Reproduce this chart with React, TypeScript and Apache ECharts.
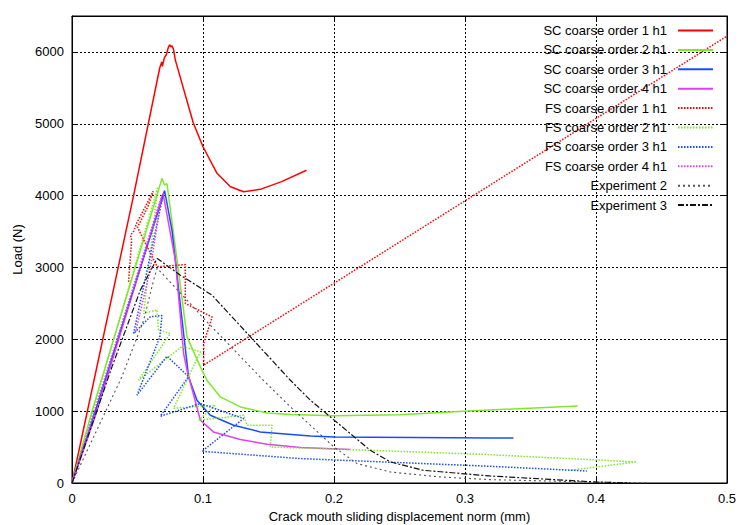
import React, { useEffect, useRef } from "react";
import * as echarts from "echarts";

const seriesNames = [
  "SC coarse order 1 h1",
  "SC coarse order 2 h1",
  "SC coarse order 3 h1",
  "SC coarse order 4 h1",
  "FS coarse order 1 h1",
  "FS coarse order 2 h1",
  "FS coarse order 3 h1",
  "FS coarse order 4 h1",
  "Experiment 2",
  "Experiment 3",
];

const xTicks = [0, 0.1, 0.2, 0.3, 0.4, 0.5];
const yTicks = [0, 1000, 2000, 3000, 4000, 5000, 6000];

const scOrder1 = [
  [0, 0], [0.047, 4000], [0.067, 5780], [0.0685, 5860], [0.069, 5800], [0.0705, 5920],
  [0.072, 5960], [0.0735, 6060], [0.0745, 6100], [0.0755, 6070], [0.0763, 6085],
  [0.0775, 6035], [0.0789, 5886], [0.0926, 5010], [0.1, 4680], [0.1107, 4310],
  [0.121, 4123], [0.131, 4054], [0.1437, 4087], [0.16, 4195], [0.179, 4353],
];
const scOrder2 = [
  [0, 0], [0.0153, 1000], [0.0687, 4240], [0.0705, 4150], [0.0725, 4165], [0.0802, 3100],
  [0.0878, 2034], [0.098, 1616], [0.103, 1430], [0.1132, 1198], [0.1285, 1059],
  [0.149, 975], [0.167, 953], [0.2, 935], [0.25, 950], [0.299, 999], [0.386, 1073],
];
const scOrder3 = [
  [0, 0], [0.0178, 1000], [0.0707, 4070], [0.0763, 3520], [0.0852, 2081], [0.089, 1477],
  [0.0954, 1152], [0.1056, 943], [0.1234, 804], [0.1437, 711], [0.182, 655],
  [0.2, 641], [0.319, 627], [0.337, 627],
];
const scOrder4 = [
  [0, 0], [0.019, 1000], [0.0695, 4030], [0.0789, 3102], [0.0852, 1802], [0.0878, 1570],
  [0.098, 873], [0.108, 711], [0.1285, 605], [0.149, 539], [0.1745, 493], [0.212, 465],
];
const fsOrder1 = [
  [0.0432, 2800], [0.0455, 3380], [0.0447, 3450], [0.047, 3500], [0.0495, 3620],
  [0.062, 4060], [0.058, 3850], [0.05, 3560], [0.065, 3010], [0.0865, 3040],
  [0.0865, 2500], [0.107, 2310], [0.1005, 1940], [0.1005, 1640], [0.5, 6220],
];
const fsOrder2 = [
  [0, 0], [0.0655, 4120], [0.0547, 2360], [0.0649, 2410], [0.066, 2130], [0.075, 2080],
  [0.0508, 1430], [0.084, 1900], [0.098, 1830], [0.0776, 1040], [0.1094, 1080],
  [0.0967, 873], [0.131, 943], [0.1336, 804], [0.1527, 804], [0.1514, 501],
  [0.2125, 465], [0.3116, 400], [0.431, 293], [0.38, 177],
];
const fsOrder3 = [
  [0, 0], [0.0695, 4000], [0.047, 2080], [0.0598, 2315], [0.0687, 2330], [0.067, 2030],
  [0.0496, 1222], [0.0725, 1765], [0.089, 1480], [0.0674, 929], [0.098, 1106],
  [0.131, 897], [0.0992, 441], [0.174, 340], [0.319, 233], [0.393, 167],
];
const fsOrder4 = [
  [0, 0], [0.0685, 4000], [0.0595, 2950], [0.0485, 2100],
];
const experiment2 = [
  [0, 0], [0.038, 1476], [0.0547, 2266], [0.0623, 2823], [0.065, 2990], [0.0878, 2545],
  [0.1018, 2267], [0.146, 1430], [0.1667, 1060], [0.2, 500], [0.2176, 270],
  [0.243, 153], [0.281, 84], [0.319, 47], [0.4, 12], [0.44, 0],
];
const experiment3 = [
  [0, 0], [0.0305, 1616], [0.0521, 2683], [0.065, 3126], [0.0827, 2893], [0.1069, 2614],
  [0.1667, 1430], [0.182, 1152], [0.2277, 455], [0.243, 293], [0.268, 177],
  [0.319, 98], [0.4, 14], [0.426, 0],
];

const seriesData = [
  scOrder1, scOrder2, scOrder3, scOrder4,
  fsOrder1, fsOrder2, fsOrder3, fsOrder4,
  experiment2, experiment3,
];

const colors = [
  "#ff0000", "#7ee82a", "#1a4cff", "#e040f0",
  "#ff0000", "#7ee82a", "#1a4cff", "#e040f0",
  "#555555", "#111111",
];
const lineTypes: any[] = [
  "solid", "solid", "solid", "solid",
  [1.5, 1.5], [1.5, 1.5], [1.5, 1.5], [1.5, 1.5],
  [2, 3], [6, 2, 2, 2],
];
const lineWidths = [1.5, 1.5, 1.5, 1.5, 1.5, 1.5, 1.5, 1.5, 1.1, 1.2];

const FONT = "'Liberation Sans', Arial, Helvetica, sans-serif";

export default function App() {
  const ref = useRef<HTMLDivElement>(null);
  useEffect(() => {
    document.body.style.margin = "0";
    if (!ref.current) return;
    const chart = echarts.init(ref.current, undefined, { renderer: "svg" });
    const xMin = xTicks[0];
    const xMax = xTicks[xTicks.length - 1];
    const yMin = yTicks[0];
    const commonTick = { show: true, inside: true, length: 5, lineStyle: { color: "#000", width: 1 } };
    const option: any = {
      animation: false,
      backgroundColor: "#fff",
      textStyle: { fontFamily: FONT },
      grid: {
        left: 72, right: 23, top: 16, bottom: 42,
        outerBoundsMode: "none",
        containLabel: false,
        show: true, borderColor: "#000", borderWidth: 1, backgroundColor: "transparent",
      },
      legend: {
        orient: "vertical",
        right: 31,
        top: 19,
        align: "right",
        itemWidth: 35,
        itemHeight: 14,
        itemGap: 6.4,
        data: seriesNames,
        itemStyle: { opacity: 0 },
        textStyle: { fontSize: 13, color: "#000", fontFamily: FONT, padding: [0, 6, 0, 0] },
      },
      xAxis: [
        {
          type: "value", min: xMin, max: xMax, interval: 0.1,
          name: "Crack mouth sliding displacement norm (mm)",
          nameLocation: "middle", nameGap: 26,
          nameTextStyle: { fontSize: 13, color: "#000", fontFamily: FONT },
          axisLine: { show: true, onZero: false, lineStyle: { color: "#000" } },
          axisTick: commonTick,
          axisLabel: { fontSize: 13, color: "#000", margin: 9, fontFamily: FONT },
          splitLine: { show: true, lineStyle: { color: "#000", type: [2, 2], width: 1 } },
        },
        {
          type: "value", min: xMin, max: xMax, interval: 0.1, position: "top",
          axisLine: { show: true, onZero: false, lineStyle: { color: "#000" } },
          axisTick: commonTick,
          axisLabel: { show: false },
          splitLine: { show: false },
        },
      ],
      yAxis: [
        {
          type: "value", min: yMin, max: 6500, interval: 1000,
          name: "Load (N)", nameLocation: "middle", nameGap: 35,
          nameTextStyle: { fontSize: 13, color: "#000", fontFamily: FONT },
          axisLine: { show: true, onZero: false, lineStyle: { color: "#000" } },
          axisTick: commonTick,
          axisLabel: {
            fontSize: 13, color: "#000", margin: 8, fontFamily: FONT,
            formatter: (v: number) => (yTicks.indexOf(v) >= 0 ? String(v) : ""),
          },
          splitLine: { show: true, lineStyle: { color: "#000", type: [2, 2], width: 1 } },
        },
        {
          type: "value", min: yMin, max: 6500, interval: 1000, position: "right",
          axisLine: { show: true, onZero: false, lineStyle: { color: "#000" } },
          axisTick: commonTick,
          axisLabel: { show: false },
          splitLine: { show: false },
        },
      ],
      series: seriesNames.map((name, i) => ({
        name,
        type: "line",
        xAxisIndex: 0,
        yAxisIndex: 0,
        data: seriesData[i],
        symbol: "none",
        showSymbol: false,
        smooth: false,
        clip: true,
        color: colors[i],
        lineStyle: { color: colors[i], width: lineWidths[i], type: lineTypes[i] },
        z: 2 + i * 0.01,
      })),
    };
    chart.setOption(option);
    return () => chart.dispose();
  }, []);
  return <div ref={ref} style={{ width: 750, height: 525 }} />;
}
